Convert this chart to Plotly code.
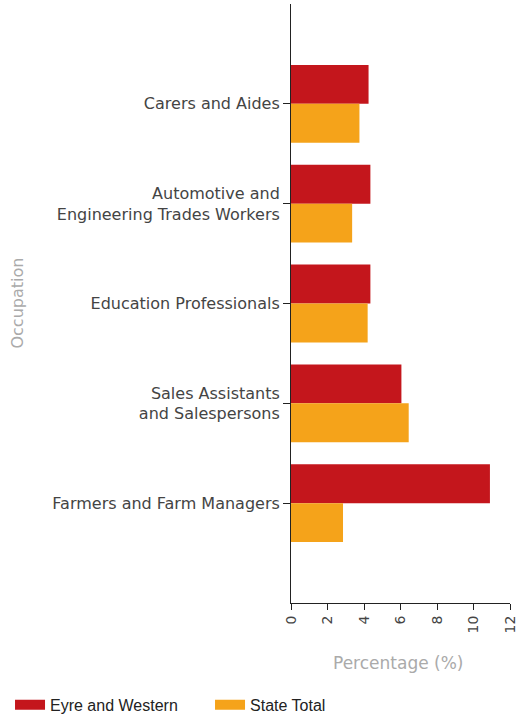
import plotly.graph_objects as go

categories = [
    "Carers and Aides",
    "Automotive and<br>Engineering Trades Workers",
    "Education Professionals",
    "Sales Assistants<br>and Salespersons",
    "Farmers and Farm Managers",
]
series_names = ["Eyre and Western", "State Total"]
eyre_western = [4.25, 4.35, 4.35, 6.05, 10.9]
state_total = [3.75, 3.35, 4.2, 6.45, 2.85]
x_ticks = [0, 2, 4, 6, 8, 10, 12]

RED = "#C4161C"
ORANGE = "#F5A31A"
LABEL = "#444444"
TITLE = "#aaaaaa"

fig = go.Figure()
for name, vals, col in [(series_names[0], eyre_western, RED), (series_names[1], state_total, ORANGE)]:
    fig.add_trace(go.Bar(y=categories, x=vals, orientation="h", name=name, showlegend=False,
                         marker=dict(color=col, line=dict(width=0))))
# legend entries drawn as wide rectangles
for name, col in [(series_names[0], RED), (series_names[1], ORANGE)]:
    fig.add_trace(go.Scatter(x=[None], y=[None], mode="lines", name=name,
                             line=dict(color=col, width=11), hoverinfo="skip"))

fig.update_layout(
    width=517, height=715,
    margin=dict(l=291, r=7, t=4, b=112, autoexpand=False),
    paper_bgcolor="white", plot_bgcolor="white",
    barmode="group", bargap=0.22, bargroupgap=0,
    font=dict(family="DejaVu Sans", size=15, color=LABEL),
    xaxis=dict(range=[0, 12], tickvals=x_ticks, ticktext=[str(v) for v in x_ticks],
               tickangle=-90, ticks="outside", ticklen=6, tickcolor="#222",
               ticklabeloverflow="allow",
               showline=True, linecolor="#222", linewidth=1, showgrid=False, zeroline=False,
               tickfont=dict(family="DejaVu Sans", size=14, color=LABEL)),
    yaxis=dict(type="category", categoryorder="array", categoryarray=categories,
               range=[5, -1], ticks="outside", ticklen=7, tickcolor="#222",
               showline=True, linecolor="#222", linewidth=1, showgrid=False, zeroline=False,
               tickfont=dict(family="DejaVu Sans", size=16, color=LABEL)),
    showlegend=True,
    legend=dict(orientation="h", x=-1.283, y=-0.17, xanchor="left", yanchor="middle",
                font=dict(family="Liberation Sans", size=16, color="#222"),
                entrywidth=155, entrywidthmode="pixels", traceorder="normal"),
    annotations=[
        dict(text="Percentage (%)", xref="paper", yref="paper", x=0.49, y=-0.1,
             showarrow=False, xanchor="center", yanchor="middle",
             font=dict(family="DejaVu Sans", size=17, color=TITLE)),
        dict(text="Occupation", xref="paper", yref="paper", x=-1.251, y=0.5,
             showarrow=False, textangle=-90, xanchor="center", yanchor="middle",
             font=dict(family="DejaVu Sans", size=16, color=TITLE)),
    ],
)

fig.write_html("out.html", config={"displayModeBar": False},
               post_script="document.body.style.margin='0px';")
